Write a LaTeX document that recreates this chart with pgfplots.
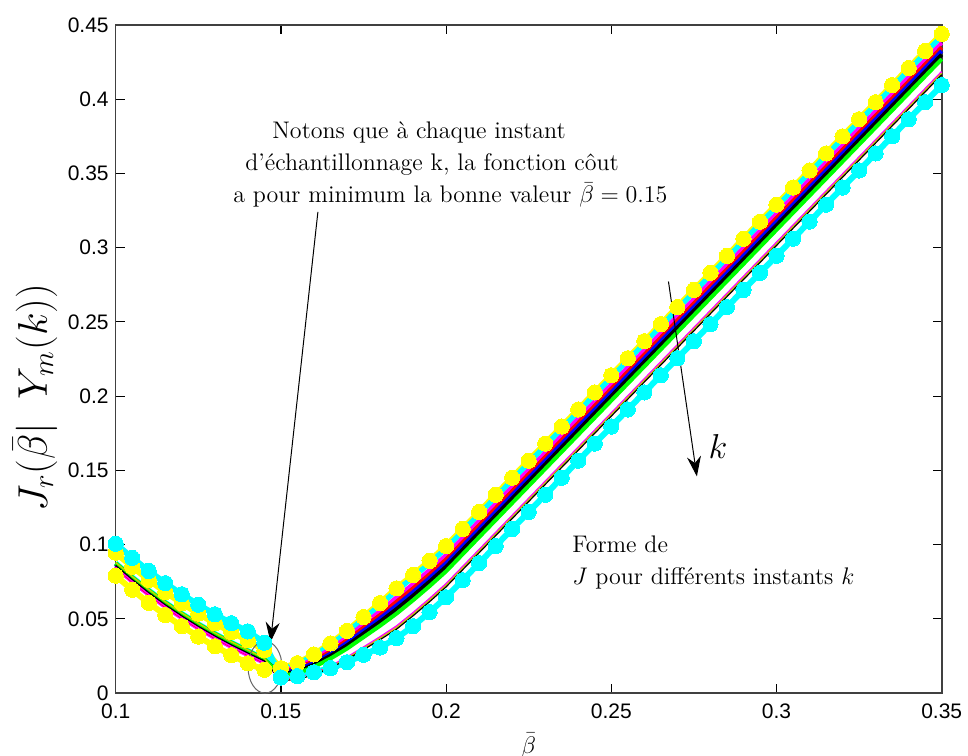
\documentclass[border=0pt]{standalone}
\usepackage{fontspec}
\usepackage{pgfplots}
\pgfplotsset{compat=1.18}
\usepackage{pgfplotstable}
\usetikzlibrary{arrows.meta}
\newfontfamily\arial{Liberation Sans}

\pgfplotstableread{
x YA C1 C2 M R Bu K G m2 y2 k2
0.100 0.0790 0.1005 0.0875 0.0845 0.0855 0.0865 0.0870 0.0875 0.0850 0.0880 0.0860
0.105 0.0695 0.0910 0.0780 0.0750 0.0760 0.0770 0.0775 0.0780 0.0755 0.0785 0.0765
0.110 0.0607 0.0822 0.0692 0.0662 0.0672 0.0682 0.0687 0.0692 0.0667 0.0697 0.0677
0.115 0.0525 0.0740 0.0610 0.0580 0.0590 0.0600 0.0605 0.0610 0.0585 0.0615 0.0595
0.120 0.0450 0.0665 0.0535 0.0505 0.0515 0.0525 0.0530 0.0535 0.0510 0.0540 0.0520
0.125 0.0380 0.0595 0.0465 0.0435 0.0445 0.0455 0.0460 0.0465 0.0440 0.0470 0.0450
0.130 0.0315 0.0530 0.0400 0.0370 0.0380 0.0390 0.0395 0.0400 0.0375 0.0405 0.0385
0.135 0.0255 0.0470 0.0340 0.0310 0.0320 0.0330 0.0335 0.0340 0.0315 0.0345 0.0325
0.140 0.0200 0.0415 0.0285 0.0255 0.0265 0.0275 0.0280 0.0285 0.0260 0.0290 0.0270
0.145 0.0156 0.0339 0.0229 0.0203 0.0212 0.0220 0.0224 0.0229 0.0207 0.0233 0.0216
0.150 0.0167 0.0105 0.0163 0.0149 0.0140 0.0133 0.0125 0.0116 0.0091 0.0088 0.0085
0.155 0.0201 0.0114 0.0195 0.0177 0.0165 0.0155 0.0145 0.0133 0.0099 0.0095 0.0091
0.160 0.0260 0.0139 0.0253 0.0230 0.0215 0.0203 0.0190 0.0175 0.0133 0.0128 0.0123
0.165 0.0334 0.0168 0.0325 0.0298 0.0280 0.0265 0.0250 0.0232 0.0181 0.0175 0.0169
0.170 0.0418 0.0207 0.0408 0.0376 0.0355 0.0338 0.0320 0.0299 0.0240 0.0233 0.0226
0.175 0.0512 0.0257 0.0500 0.0464 0.0440 0.0420 0.0400 0.0376 0.0308 0.0300 0.0292
0.180 0.0606 0.0306 0.0593 0.0552 0.0525 0.0503 0.0480 0.0453 0.0377 0.0368 0.0359
0.185 0.0705 0.0370 0.0690 0.0645 0.0615 0.0590 0.0565 0.0535 0.0450 0.0440 0.0430
0.190 0.0795 0.0450 0.0780 0.0735 0.0705 0.0680 0.0655 0.0625 0.0540 0.0530 0.0520
0.195 0.0890 0.0545 0.0875 0.0830 0.0800 0.0775 0.0750 0.0720 0.0635 0.0625 0.0615
0.200 0.0990 0.0645 0.0975 0.0930 0.0900 0.0875 0.0850 0.0820 0.0735 0.0725 0.0715
0.205 0.1105 0.0760 0.1090 0.1045 0.1015 0.0990 0.0965 0.0935 0.0850 0.0840 0.0830
0.210 0.1220 0.0875 0.1205 0.1160 0.1130 0.1105 0.1080 0.1050 0.0965 0.0955 0.0945
0.215 0.1335 0.0990 0.1320 0.1275 0.1245 0.1220 0.1195 0.1165 0.1080 0.1070 0.1060
0.220 0.1450 0.1105 0.1435 0.1390 0.1360 0.1335 0.1310 0.1280 0.1195 0.1185 0.1175
0.225 0.1565 0.1220 0.1550 0.1505 0.1475 0.1450 0.1425 0.1395 0.1310 0.1300 0.1290
0.230 0.1680 0.1335 0.1665 0.1620 0.1590 0.1565 0.1540 0.1510 0.1425 0.1415 0.1405
0.235 0.1795 0.1450 0.1780 0.1735 0.1705 0.1680 0.1655 0.1625 0.1540 0.1530 0.1520
0.240 0.1910 0.1565 0.1895 0.1850 0.1820 0.1795 0.1770 0.1740 0.1655 0.1645 0.1635
0.245 0.2025 0.1680 0.2010 0.1965 0.1935 0.1910 0.1885 0.1855 0.1770 0.1760 0.1750
0.250 0.2140 0.1795 0.2125 0.2080 0.2050 0.2025 0.2000 0.1970 0.1885 0.1875 0.1865
0.255 0.2255 0.1910 0.2240 0.2195 0.2165 0.2140 0.2115 0.2085 0.2000 0.1990 0.1980
0.260 0.2370 0.2025 0.2355 0.2310 0.2280 0.2255 0.2230 0.2200 0.2115 0.2105 0.2095
0.265 0.2485 0.2140 0.2470 0.2425 0.2395 0.2370 0.2345 0.2315 0.2230 0.2220 0.2210
0.270 0.2600 0.2255 0.2585 0.2540 0.2510 0.2485 0.2460 0.2430 0.2345 0.2335 0.2325
0.275 0.2715 0.2370 0.2700 0.2655 0.2625 0.2600 0.2575 0.2545 0.2460 0.2450 0.2440
0.280 0.2830 0.2485 0.2815 0.2770 0.2740 0.2715 0.2690 0.2660 0.2575 0.2565 0.2555
0.285 0.2945 0.2600 0.2930 0.2885 0.2855 0.2830 0.2805 0.2775 0.2690 0.2680 0.2670
0.290 0.3060 0.2715 0.3045 0.3000 0.2970 0.2945 0.2920 0.2890 0.2805 0.2795 0.2785
0.295 0.3175 0.2830 0.3160 0.3115 0.3085 0.3060 0.3035 0.3005 0.2920 0.2910 0.2900
0.300 0.3290 0.2945 0.3275 0.3230 0.3200 0.3175 0.3150 0.3120 0.3035 0.3025 0.3015
0.305 0.3405 0.3060 0.3390 0.3345 0.3315 0.3290 0.3265 0.3235 0.3150 0.3140 0.3130
0.310 0.3520 0.3175 0.3505 0.3460 0.3430 0.3405 0.3380 0.3350 0.3265 0.3255 0.3245
0.315 0.3635 0.3290 0.3620 0.3575 0.3545 0.3520 0.3495 0.3465 0.3380 0.3370 0.3360
0.320 0.3750 0.3405 0.3735 0.3690 0.3660 0.3635 0.3610 0.3580 0.3495 0.3485 0.3475
0.325 0.3865 0.3520 0.3850 0.3805 0.3775 0.3750 0.3725 0.3695 0.3610 0.3600 0.3590
0.330 0.3980 0.3635 0.3965 0.3920 0.3890 0.3865 0.3840 0.3810 0.3725 0.3715 0.3705
0.335 0.4095 0.3750 0.4080 0.4035 0.4005 0.3980 0.3955 0.3925 0.3840 0.3830 0.3820
0.340 0.4210 0.3865 0.4195 0.4150 0.4120 0.4095 0.4070 0.4040 0.3955 0.3945 0.3935
0.345 0.4325 0.3980 0.4310 0.4265 0.4235 0.4210 0.4185 0.4155 0.4070 0.4060 0.4050
0.350 0.4440 0.4095 0.4425 0.4380 0.4350 0.4325 0.4300 0.4270 0.4185 0.4175 0.4165
}\maindata

\pgfplotstableread{
x YB
0.100 0.0945
0.105 0.0850
0.110 0.0762
0.115 0.0680
0.120 0.0605
0.125 0.0535
0.130 0.0470
0.135 0.0410
0.140 0.0355
0.145 0.0288
0.150 0.0167
}\ybdata

\definecolor{myyellow}{rgb}{1,1,0}
\definecolor{mycyan}{rgb}{0,1,1}
\definecolor{mymag}{rgb}{1,0,1}
\definecolor{myred}{rgb}{1,0,0}
\definecolor{myblue}{rgb}{0,0,1}
\definecolor{mygreen}{rgb}{0,1,0}

\begin{document}
\begin{tikzpicture}
\begin{axis}[
  width=413pt, height=334pt, scale only axis,
  xmin=0.1, xmax=0.35, ymin=0, ymax=0.45,
  xtick={0.1,0.15,0.2,0.25,0.3,0.35},
  xticklabels={0.1,0.15,0.2,0.25,0.3,0.35},
  ytick={0,0.05,0.1,0.15,0.2,0.25,0.3,0.35,0.4,0.45},
  yticklabels={0,0.05,0.1,0.15,0.2,0.25,0.3,0.35,0.4,0.45},
  xtick pos=both, ytick pos=both,
  tick align=inside, major tick length=4.5pt,
  tick style={black, line width=0.6pt},
  axis line style={line width=0.8pt, black!75},
  ticklabel style={font=\arial\fontsize{10.5}{12}\selectfont},
  xticklabel style={yshift=-2pt},
  clip=false,
]
\coordinate (sw) at (rel axis cs:0,0);
\coordinate (ne) at (rel axis cs:1,1);

\addplot[myyellow, line width=3pt, mark=*, mark size=3.8pt, mark options={fill=myyellow, draw=myyellow, line width=0pt}] table[x=x, y=YA] {\maindata};
\addplot[myyellow, line width=3pt, mark=*, mark size=3.8pt, mark options={fill=myyellow, draw=myyellow, line width=0pt}] table[x=x, y=YB] {\ybdata};
\addplot[mycyan, line width=3pt, mark=*, mark size=3.8pt, mark options={fill=mycyan, draw=mycyan, line width=0pt}] table[x=x, y=C1] {\maindata};
\addplot[mycyan, line width=2.6pt] table[x=x, y=C2] {\maindata};
\addplot[mymag, line width=2pt] table[x=x, y=M] {\maindata};
\addplot[myred, line width=2pt] table[x=x, y=R] {\maindata};
\addplot[myblue, line width=2pt] table[x=x, y=Bu] {\maindata};
\addplot[black, line width=2pt] table[x=x, y=K] {\maindata};
\addplot[mygreen, line width=2pt] table[x=x, y=G] {\maindata};
\addplot[mymag, line width=0.9pt] table[x=x, y=m2] {\maindata};
\addplot[myyellow!80!black, line width=0.7pt] table[x=x, y=y2] {\maindata};
\addplot[black, line width=0.6pt] table[x=x, y=k2] {\maindata};

% annotations
\draw[-{Stealth[length=10pt,width=7pt]}, line width=0.5pt] (axis cs:0.2673,0.2772) -- (axis cs:0.2759,0.1459);
\draw[-{Stealth[length=10pt,width=7pt]}, line width=0.5pt] (axis cs:0.1612,0.3241) -- (axis cs:0.14685,0.0342);
\draw[black!60, line width=0.5pt] (axis cs:0.1452,0.0174) ellipse [x radius=8.5pt, y radius=13pt];

\node[anchor=base west, font=\fontsize{12}{14}\selectfont, inner sep=0pt] at (axis cs:0.1473,0.3733) {Notons que à chaque instant};
\node[anchor=base west, font=\fontsize{12}{14}\selectfont, inner sep=0pt] at (axis cs:0.1391,0.3517) {d'échantillonnage k, la fonction côut};
\node[anchor=base west, font=\fontsize{12}{14}\selectfont, inner sep=0pt] at (axis cs:0.1355,0.3302) {a pour minimum la bonne valeur $\bar{\beta}=0.15$};
\node[anchor=base west, font=\fontsize{12}{14}\selectfont, inner sep=0pt] at (axis cs:0.2381,0.0945) {Forme de};
\node[anchor=base west, font=\fontsize{12}{14}\selectfont, inner sep=0pt] at (axis cs:0.2381,0.0729) {$J$ pour différents instants $k$};
\node[font=\fontsize{16}{18}\selectfont] at (axis cs:0.2823,0.1659) {$k$};

\node[rotate=90, font=\fontsize{20}{23}\selectfont] at (axis cs:0.0756,0.199) {$J_r(\bar{\beta}|\;\;Y_m(k))$};
\node[font=\fontsize{13}{15}\selectfont, inner sep=0pt] at (axis cs:0.225,-0.0355) {$\bar{\beta}$};
\end{axis}
\pgfresetboundingbox
\path[use as bounding box] ([xshift=-57.85pt,yshift=-31.35pt]sw) rectangle ([xshift=13.15pt,yshift=12.5pt]ne);
\end{tikzpicture}
\end{document}
